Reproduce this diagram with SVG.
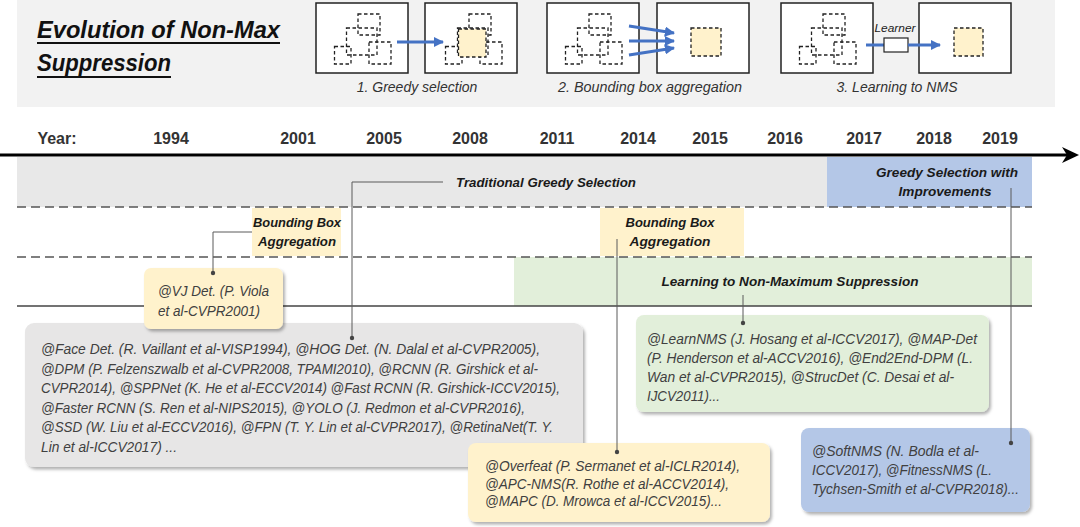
<svg xmlns="http://www.w3.org/2000/svg" xmlns:xlink="http://www.w3.org/1999/xlink" width="1080" height="527" viewBox="0 0 1080 527">
<style>
text{font-family:"Liberation Sans",Arial,sans-serif}
.title{font-size:23px;font-weight:bold;font-style:italic;fill:#111}
.cap{font-size:14px;font-style:italic;fill:#333}
.year{font-size:16px;font-weight:bold;fill:#333;text-anchor:middle}
.band{font-size:13.5px;font-weight:bold;font-style:italic;fill:#1a1a1a}
.body{font-size:14px;font-style:italic;fill:#404040}
.panel{fill:#fff;stroke:#222;stroke-width:1.5}
.dbox{fill:none;stroke:#222;stroke-width:1.3;stroke-dasharray:3.5 2.5}
.ybox{fill:#FFF2CC;stroke:#222;stroke-width:1.3;stroke-dasharray:3.5 2.5}
.barrow{stroke:#4472C4;stroke-width:3;fill:none}
.dash{stroke:#555;stroke-width:1.5;stroke-dasharray:9 5;fill:none}
.conn{stroke:#5a5a5a;stroke-width:1;fill:none}
.dot{fill:#444}
</style>
<defs>
<marker id="ah" viewBox="0 0 10 10" refX="9" refY="5" markerWidth="3.4" markerHeight="3.4" orient="auto">
<path d="M0,0 L10,5 L0,10 z" fill="#4472C4"/>
</marker>
<g id="cluster">
<rect class="dbox" x="42" y="11" width="22" height="21"/>
<rect class="dbox" x="30.5" y="25" width="30.5" height="27"/>
<rect class="dbox" x="18.5" y="43.5" width="16.5" height="17.5"/>
<rect class="dbox" x="53" y="39" width="22" height="22"/>
</g>
<filter id="sh" x="-10%" y="-10%" width="125%" height="130%">
<feDropShadow dx="2" dy="2.5" stdDeviation="1.8" flood-color="#000" flood-opacity="0.3"/>
</filter>
</defs>

<g id="header">
<rect x="17" y="0" width="1038" height="107" fill="#F2F2F2"/>
<text class="title" x="37" y="38" textLength="243" lengthAdjust="spacingAndGlyphs">Evolution of Non-Max</text>
<line x1="37" y1="43" x2="280" y2="43" stroke="#111" stroke-width="2"/>
<text class="title" x="37" y="71" textLength="134" lengthAdjust="spacingAndGlyphs">Suppression</text>
<line x1="37" y1="77" x2="171" y2="77" stroke="#111" stroke-width="2"/>
</g>

<g id="panel-greedy">
<rect class="panel" x="316" y="3" width="92" height="70"/>
<use xlink:href="#cluster" x="316" y="3"/>
<rect class="panel" x="425" y="3" width="92" height="70"/>
<use xlink:href="#cluster" x="427" y="3"/>
<rect class="ybox" x="458.5" y="29" width="27.5" height="28"/>
<line class="barrow" x1="397" y1="42" x2="443" y2="42" marker-end="url(#ah)"/>
<text class="cap" x="417" y="92" text-anchor="middle">1. Greedy selection</text>
</g>

<g id="panel-aggregation">
<rect class="panel" x="547" y="3" width="92" height="70"/>
<use xlink:href="#cluster" x="547" y="3"/>
<rect class="panel" x="657" y="3" width="92" height="70"/>
<rect class="ybox" x="691" y="28" width="30" height="28"/>
<line class="barrow" x1="629" y1="26" x2="674" y2="33" marker-end="url(#ah)"/>
<line class="barrow" x1="629" y1="41" x2="674" y2="41" marker-end="url(#ah)"/>
<line class="barrow" x1="629" y1="55" x2="674" y2="48" marker-end="url(#ah)"/>
<text class="cap" x="650" y="92" text-anchor="middle" textLength="184" lengthAdjust="spacingAndGlyphs">2. Bounding box aggregation</text>
</g>

<g id="panel-learning">
<rect class="panel" x="781" y="3" width="92" height="70"/>
<use xlink:href="#cluster" x="781" y="3"/>
<rect class="panel" x="919" y="3" width="92" height="70"/>
<rect class="ybox" x="954" y="28" width="29" height="28"/>
<line class="barrow" x1="866" y1="45" x2="884" y2="45"/>
<rect x="884" y="38" width="24" height="14" fill="#fff" stroke="#222" stroke-width="1.2"/>
<line class="barrow" x1="908" y1="45" x2="940" y2="45" marker-end="url(#ah)"/>
<text x="895" y="32" font-size="10.5" font-style="italic" fill="#222" text-anchor="middle" textLength="41" lengthAdjust="spacingAndGlyphs">Learner</text>
<text class="cap" x="897" y="92" text-anchor="middle" textLength="121" lengthAdjust="spacingAndGlyphs">3. Learning to NMS</text>
</g>

<g id="timeline">
<text class="year" x="57" y="144">Year:</text>
<text class="year" x="171" y="144">1994</text>
<text class="year" x="298" y="144">2001</text>
<text class="year" x="384" y="144">2005</text>
<text class="year" x="470" y="144">2008</text>
<text class="year" x="557" y="144">2011</text>
<text class="year" x="638" y="144">2014</text>
<text class="year" x="710" y="144">2015</text>
<text class="year" x="785" y="144">2016</text>
<text class="year" x="864" y="144">2017</text>
<text class="year" x="934" y="144">2018</text>
<text class="year" x="1000" y="144">2019</text>
<line x1="0" y1="155" x2="1068" y2="155" stroke="#000" stroke-width="3"/>
<path d="M1079,155 L1062,147 L1067,155 L1062,163 z" fill="#000"/>
</g>

<g id="bands">
<rect x="17" y="157" width="810" height="50" fill="#E8E8E8"/>
<rect x="827" y="157" width="205" height="50" fill="#B4C7E7"/>
<rect x="514" y="257" width="518" height="49" fill="#E2EFDA"/>
<rect x="252" y="208" width="89" height="48" fill="#FFF2CC"/>
<rect x="600" y="208" width="144" height="48" fill="#FFF2CC"/>
<line class="dash" x1="17" y1="207" x2="1032" y2="207"/>
<line class="dash" x1="17" y1="257" x2="1032" y2="257"/>
<line x1="17" y1="306" x2="1032" y2="306" stroke="#444" stroke-width="1.5"/>
</g>

<g id="label-traditional">
<text class="band" x="456" y="187" textLength="180" lengthAdjust="spacingAndGlyphs">Traditional Greedy Selection</text>
</g>
<g id="label-improvements">
<text class="band" x="947" y="177" text-anchor="middle" textLength="142" lengthAdjust="spacingAndGlyphs">Greedy Selection with</text>
<text class="band" x="945" y="196" text-anchor="middle" textLength="93" lengthAdjust="spacingAndGlyphs">Improvements</text>
</g>
<g id="label-bba-left">
<text class="band" x="297" y="227" text-anchor="middle" textLength="88" lengthAdjust="spacingAndGlyphs">Bounding Box</text>
<text class="band" x="297" y="246" text-anchor="middle" textLength="78" lengthAdjust="spacingAndGlyphs">Aggregation</text>
</g>
<g id="label-bba-right">
<text class="band" x="670" y="227" text-anchor="middle" textLength="89" lengthAdjust="spacingAndGlyphs">Bounding Box</text>
<text class="band" x="670" y="246" text-anchor="middle" textLength="81" lengthAdjust="spacingAndGlyphs">Aggregation</text>
</g>
<g id="label-learning">
<text class="band" x="790" y="286" text-anchor="middle" textLength="257" lengthAdjust="spacingAndGlyphs">Learning to Non-Maximum Suppression</text>
</g>

<g id="box-traditional">
<rect x="25" y="323" width="558" height="144" rx="9" fill="#E7E6E6" filter="url(#sh)"/>
<text class="body" x="41" y="354" textLength="499" lengthAdjust="spacingAndGlyphs">@Face Det. (R. Vaillant et al-VISP1994), @HOG Det. (N. Dalal et al-CVPR2005),</text>
<text class="body" x="41" y="373.5" textLength="497" lengthAdjust="spacingAndGlyphs">@DPM (P. Felzenszwalb et al-CVPR2008, TPAMI2010), @RCNN (R. Girshick et al-</text>
<text class="body" x="41" y="393" textLength="519" lengthAdjust="spacingAndGlyphs">CVPR2014), @SPPNet (K. He et al-ECCV2014) @Fast RCNN (R. Girshick-ICCV2015),</text>
<text class="body" x="41" y="412.5" textLength="484" lengthAdjust="spacingAndGlyphs">@Faster RCNN (S. Ren et al-NIPS2015), @YOLO (J. Redmon et al-CVPR2016),</text>
<text class="body" x="41" y="432" textLength="512" lengthAdjust="spacingAndGlyphs">@SSD (W. Liu et al-ECCV2016), @FPN (T. Y. Lin et al-CVPR2017), @RetinaNet(T. Y.</text>
<text class="body" x="41" y="451.5" textLength="136" lengthAdjust="spacingAndGlyphs">Lin et al-ICCV2017) ...</text>
</g>

<g id="box-vj">
<rect x="144" y="268" width="139" height="61" rx="7" fill="#FFF2CC" filter="url(#sh)"/>
<text class="body" x="158" y="296" textLength="111" lengthAdjust="spacingAndGlyphs">@VJ Det. (P. Viola</text>
<text class="body" x="158" y="316" textLength="102" lengthAdjust="spacingAndGlyphs">et al-CVPR2001)</text>
</g>

<g id="box-learning">
<rect x="636" y="315" width="353" height="97" rx="8" fill="#E2EFDA" filter="url(#sh)"/>
<text class="body" x="647" y="344" textLength="330" lengthAdjust="spacingAndGlyphs">@LearnNMS (J. Hosang et al-ICCV2017), @MAP-Det</text>
<text class="body" x="647" y="363" textLength="326" lengthAdjust="spacingAndGlyphs">(P. Henderson et al-ACCV2016), @End2End-DPM (L.</text>
<text class="body" x="647" y="382" textLength="307" lengthAdjust="spacingAndGlyphs">Wan et al-CVPR2015), @StrucDet (C. Desai et al-</text>
<text class="body" x="647" y="401" textLength="73" lengthAdjust="spacingAndGlyphs">IJCV2011)...</text>
</g>

<g id="box-aggregation">
<rect x="468" y="443" width="302" height="79" rx="8" fill="#FFF2CC" filter="url(#sh)"/>
<text class="body" x="485" y="471" textLength="255" lengthAdjust="spacingAndGlyphs">@Overfeat (P. Sermanet et al-ICLR2014),</text>
<text class="body" x="485" y="488.5" textLength="244" lengthAdjust="spacingAndGlyphs">@APC-NMS(R. Rothe et al-ACCV2014),</text>
<text class="body" x="485" y="506" textLength="237" lengthAdjust="spacingAndGlyphs">@MAPC (D. Mrowca et al-ICCV2015)...</text>
</g>

<g id="box-improvements">
<rect x="801" y="428" width="229" height="84" rx="8" fill="#B4C7E7" filter="url(#sh)"/>
<text class="body" x="812" y="456" textLength="167" lengthAdjust="spacingAndGlyphs">@SoftNMS (N. Bodla et al-</text>
<text class="body" x="812" y="475" textLength="180" lengthAdjust="spacingAndGlyphs">ICCV2017), @FitnessNMS (L.</text>
<text class="body" x="812" y="494" textLength="207" lengthAdjust="spacingAndGlyphs">Tychsen-Smith et al-CVPR2018)...</text>
</g>

<g id="connectors">
<polyline class="conn" points="443,182 352,182 352,338"/>
<circle class="dot" cx="352" cy="338" r="2.2"/>
<polyline class="conn" points="252,232 213,232 213,273"/>
<circle class="dot" cx="213" cy="273" r="2.2"/>
<line class="conn" x1="617" y1="239" x2="617" y2="452"/>
<circle class="dot" cx="617" cy="452" r="2.2"/>
<line class="conn" x1="743" y1="295" x2="743" y2="323"/>
<circle class="dot" cx="743" cy="323" r="2.2"/>
<line class="conn" x1="1011" y1="188" x2="1011" y2="443"/>
<circle class="dot" cx="1011" cy="443" r="2.2"/>
</g>
</svg>
